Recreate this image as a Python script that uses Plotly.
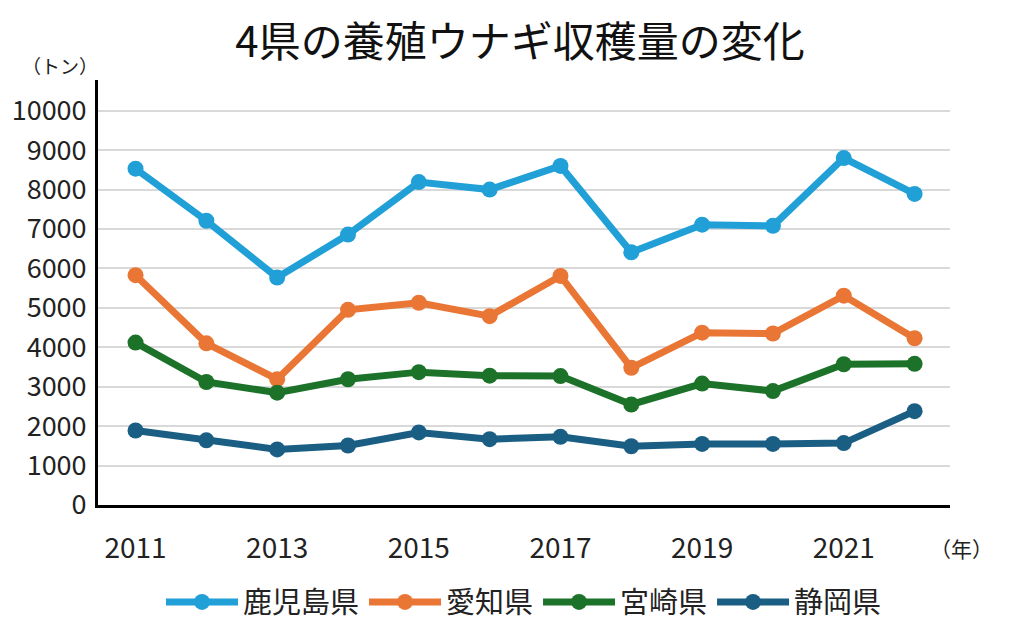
import plotly.graph_objects as go

years = [2011, 2012, 2013, 2014, 2015, 2016, 2017, 2018, 2019, 2020, 2021, 2022]
kagoshima = [8530, 7210, 5770, 6860, 8190, 8000, 8600, 6410, 7110, 7080, 8800, 7890]
aichi = [5830, 4100, 3190, 4950, 5130, 4790, 5810, 3480, 4370, 4350, 5310, 4230]
miyazaki = [4120, 3120, 2850, 3190, 3370, 3280, 3270, 2550, 3080, 2890, 3570, 3580]
shizuoka = [1890, 1640, 1410, 1510, 1840, 1670, 1730, 1490, 1550, 1550, 1570, 2380]

series_names = ["鹿児島県", "愛知県", "宮崎県", "静岡県"]
series_values = [kagoshima, aichi, miyazaki, shizuoka]
series_colors = ["#21a0d8", "#ea7636", "#1d722a", "#1a5e84"]

x_ticks = [2011, 2013, 2015, 2017, 2019, 2021]
y_ticks = list(range(0, 10001, 1000))

FONT = "Noto Sans CJK JP, Noto Sans, sans-serif"

fig = go.Figure()
for name, vals, col in zip(series_names, series_values, series_colors):
    fig.add_trace(go.Scatter(
        x=years, y=vals, name=name, mode="lines+markers",
        line=dict(color=col, width=7),
        marker=dict(color=col, size=16),
    ))

fig.update_layout(
    width=1024, height=630,
    paper_bgcolor="white", plot_bgcolor="white",
    margin=dict(l=90, r=82, t=72, b=133, autoexpand=False),
    font=dict(family=FONT, color="#222222"),
    title=dict(text="4県の養殖ウナギ収穫量の変化", x=0.5, xanchor="center",
               y=0.946, yanchor="middle", yref="container",
               font=dict(size=42, color="#111111", family=FONT)),
    showlegend=True,
    legend=dict(orientation="h", x=0.5, xanchor="center",
                y=0.057, yanchor="middle", yref="container",
                font=dict(size=29, color="#222222", family=FONT),
                itemwidth=72, traceorder="normal"),
)

fig.update_xaxes(
    range=[2010.47, 2022.5], tickvals=x_ticks, ticktext=[str(v) for v in x_ticks],
    showgrid=False, zeroline=False, automargin=False,
    showline=True, linecolor="black", linewidth=3,
    ticks="", ticklabelstandoff=16,
    tickfont=dict(size=28, color="#222222", family=FONT),
)
fig.update_yaxes(
    range=[0, 10780], tickvals=y_ticks, ticktext=[str(v) for v in y_ticks],
    showgrid=True, gridcolor="#d9d9d9", gridwidth=2,
    zeroline=False, automargin=False, showline=True, linecolor="black", linewidth=3,
    ticks="", ticklabelstandoff=3,
    tickfont=dict(size=27, color="#222222", family=FONT),
)

fig.add_annotation(text="（トン）", xref="paper", yref="paper",
                   x=-0.045, y=1.035, xanchor="center", yanchor="middle",
                   showarrow=False, font=dict(size=19, color="#222222", family=FONT))
fig.add_annotation(text="（年）", xref="paper", yref="paper",
                   x=1.014, y=-0.101, xanchor="center", yanchor="middle",
                   showarrow=False, font=dict(size=21, color="#222222", family=FONT))

fig.write_html("out.html")
